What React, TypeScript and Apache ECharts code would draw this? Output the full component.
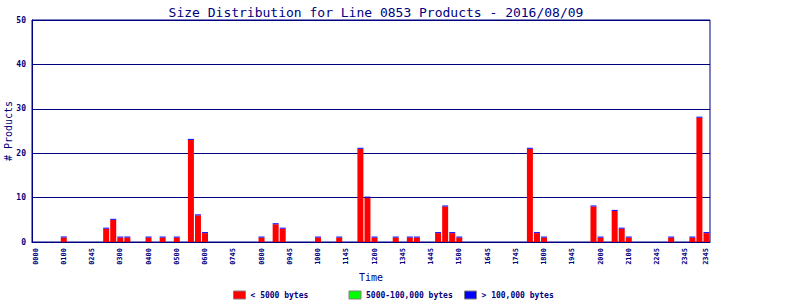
import React, { useEffect, useRef } from "react";
import * as echarts from "echarts";

const titleText = "Size Distribution for Line 0853 Products - 2016/08/09";
const seriesNames = ["< 5000 bytes", "5000-100,000 bytes", "> 100,000 bytes"];

// 96 fifteen-minute slots
const slotCount = 96;
const tickLabels = [
  "0000", "0100", "0245", "0300", "0400", "0500", "0600", "0745", "0800", "0945",
  "1000", "1145", "1200", "1345", "1445", "1500", "1645", "1745", "1800", "1945",
  "2000", "2100", "2245", "2345", "2345",
];
const tickSlots = [
  0, 4, 8, 12, 16, 20, 24, 28, 32, 36, 40, 44, 48, 52, 56, 60, 64, 68, 72, 76,
  80, 84, 88, 92, 95,
];

const smallValues = [
  0, 0, 0, 0, 1, 0, 0, 0, 0, 0, 3, 5, 1, 1, 0, 0,
  1, 0, 1, 0, 1, 0, 23, 6, 2, 0, 0, 0, 0, 0, 0, 0,
  1, 0, 4, 3, 0, 0, 0, 0, 1, 0, 0, 1, 0, 0, 21, 10,
  1, 0, 0, 1, 0, 1, 1, 0, 0, 2, 8, 2, 1, 0, 0, 0,
  0, 0, 0, 0, 0, 0, 21, 2, 1, 0, 0, 0, 0, 0, 0, 8,
  1, 0, 7, 3, 1, 0, 0, 0, 0, 0, 1, 0, 0, 1, 28, 2,
];
const mediumValues = new Array(slotCount).fill(0);
const largeValues = smallValues.map((v) => (v > 0 ? 0 : null));

const yTicks = [0, 10, 20, 30, 40, 50];

const NAVY = "#000080";
const FONT = "'DejaVu Sans Mono', monospace";

export default function App() {
  const ref = useRef<HTMLDivElement>(null);
  useEffect(() => {
    if (!ref.current) return;
    const chart = echarts.init(ref.current, undefined, { renderer: "svg" });
    const categories = Array.from({ length: slotCount }, (_, i) => String(i));
    const labelMap: Record<number, string> = {};
    tickSlots.forEach((s, i) => (labelMap[s] = tickLabels[i]));
    chart.setOption({
      animation: false,
      backgroundColor: "#ffffff",
      title: {
        text: titleText,
        left: 371,
        textAlign: "center",
        top: 1,
        textStyle: { fontFamily: FONT, fontSize: 13, fontWeight: "normal", color: NAVY },
      },
      legend: {
        left: 233,
        top: 290,
        padding: 0,
        itemWidth: 12,
        itemHeight: 8,
        itemGap: 0,
        itemTextGap: 4,
        icon: "rect",
        itemStyle: { borderColor: "#808080", borderWidth: 1 },
        textStyle: {
          fontFamily: FONT,
          fontSize: 8,
          fontWeight: "bold",
          color: NAVY,
          width: 98,
          height: 10,
          lineHeight: 10,
        },
        data: seriesNames,
      },
      grid: {
        left: 32,
        right: 90,
        top: 20,
        bottom: 58,
        outerBoundsMode: "none",
        containLabel: false,
        show: true,
        borderColor: NAVY,
        borderWidth: 1,
        backgroundColor: "transparent",
      },
      xAxis: {
        type: "category",
        data: categories,
        name: "Time",
        nameLocation: "middle",
        nameGap: 30,
        nameMoveOverlap: false,
        nameTextStyle: { fontFamily: FONT, fontSize: 10, color: NAVY },
        axisLine: { lineStyle: { color: NAVY } },
        axisTick: { show: false },
        axisLabel: {
          interval: 0,
          rotate: 90,
          margin: 6,
          fontFamily: FONT,
          fontSize: 7,
          fontWeight: "bold",
          color: NAVY,
          formatter: (_v: string, idx: number) => labelMap[idx] ?? "",
        },
      },
      yAxis: {
        type: "value",
        min: yTicks[0],
        max: yTicks[yTicks.length - 1],
        interval: 10,
        name: "# Products",
        nameLocation: "middle",
        nameGap: 19,
        nameMoveOverlap: false,
        nameTextStyle: { fontFamily: FONT, fontSize: 10, color: NAVY },
        axisLine: { show: true, lineStyle: { color: NAVY } },
        axisTick: { show: false },
        axisLabel: { margin: 6, fontFamily: FONT, fontSize: 8, fontWeight: "bold", color: NAVY },
        splitLine: { lineStyle: { color: NAVY, width: 1 } },
      },
      series: [
        {
          name: seriesNames[0],
          type: "bar",
          stack: "total",
          barWidth: 6,
          itemStyle: { color: "#ff0000" },
          data: smallValues,
        },
        {
          name: seriesNames[1],
          type: "bar",
          stack: "total",
          barWidth: 6,
          itemStyle: { color: "#00ff00" },
          data: mediumValues,
        },
        {
          name: seriesNames[2],
          type: "bar",
          stack: "total",
          barWidth: 6,
          barMinHeight: 1,
          itemStyle: { color: "#0000ff" },
          data: largeValues,
        },
      ],
    });
    return () => chart.dispose();
  }, []);
  return (
    <div
      ref={ref}
      style={{ position: "fixed", left: 0, top: 0, width: 800, height: 300 }}
    />
  );
}
